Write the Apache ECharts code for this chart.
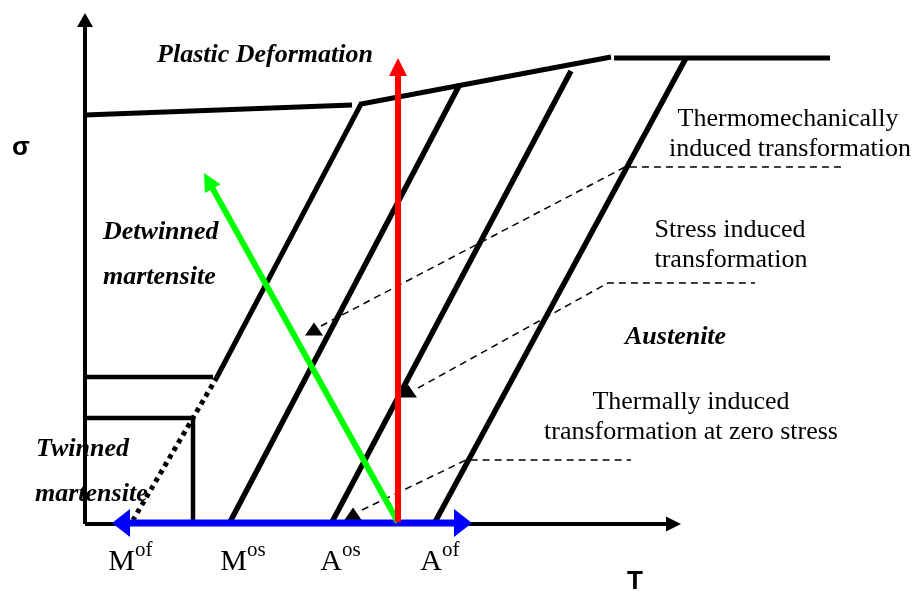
<!DOCTYPE html>
<html>
<head>
<meta charset="utf-8">
<script src="https://cdn.jsdelivr.net/npm/echarts@6/dist/echarts.min.js"></script>
<style>
  html, body { margin: 0; padding: 0; background: #fff; }
  #chart { width: 918px; height: 591px; }
</style>
</head>
<body>
<div id="chart"></div>
<script>
// Schematic stress–temperature phase diagram of a shape memory alloy.
// All points are given as [T, sigma] in arbitrary diagram units.

// Coordinate axes (drawn as arrows)
const tempAxis = [[0, 0], [596, 0]];
const sigmaAxis = [[0, 0], [0, 511]];

// Yield (plastic deformation) limit
const yieldLowT = [[0, 409], [267, 419]];
const yieldHighT = [[529, 466], [745, 466]];

// Transformation boundaries
const mfUpper = [[132, 147], [276, 420], [526, 467]];   // Mf line continuing into the yield limit
const mfLower = [[132, 147], [48, 4]];                  // dotted part down to Mof
const msLine = [[145, 2], [375, 440]];
const asLine = [[247, 2], [486, 453]];
const afLine = [[350, 2], [601, 466]];

// Twinned / detwinned martensite region outlines
const detwinLevel = [[0, 147], [128, 147]];
const twinnedBox = [[0, 106], [108, 106], [108, 0]];

// Leader lines from the annotations to the paths
const leaderThermomech = [[236, 198], [540, 357], [758, 357]];
const leaderStress = [[333, 136], [523, 241], [670, 241]];
const leaderThermal = [[277, 14], [381, 64], [546, 64]];
const leaderMarks = [[229, 195], [323, 133], [268, 10]];

// Loading paths
const stressPath = [[313, 2], [313, 466]];          // stress induced (isothermal loading)
const thermomechPath = [[313, 2], [119, 351]];      // thermomechanically induced
const thermalPath = [[27, 1], [387, 1]];            // thermal cycling at zero stress

// Temperature tick labels
const tickMain = ['M', 'M', 'A', 'A'];
const tickSup = ['of', 'os', 'os', 'of'];
const tickT = [50, 162, 257, 357];

// Region and annotation texts
const regionTitles = ['Plastic Deformation', 'Detwinned', 'martensite', 'Twinned', 'martensite', 'Austenite'];
const noteTexts = ['Thermomechanically', 'induced transformation', 'Stress induced', 'transformation',
                   'Thermally induced', 'transformation at zero stress'];
const axisNames = ['σ', 'T'];

const SERIF = '"Liberation Serif", "Times New Roman", serif';
const SANS = '"Liberation Sans", Arial, sans-serif';

function polyline(name, pts, width, dash, z) {
  return {
    type: 'line', name, data: pts, showSymbol: false, symbol: 'none',
    silent: true, animation: false, z: z || 2,
    lineStyle: { color: '#000', width, type: dash || 'solid', cap: 'butt', join: 'miter', opacity: 1 }
  };
}

function arrow(name, path, color, width, headLen, headWid, both, z) {
  return {
    type: 'custom', name, coordinateSystem: 'cartesian2d', silent: true, animation: false,
    clip: false, z: z || 3,
    data: [[path[0][0], path[0][1], path[1][0], path[1][1]]],
    renderItem(params, api) {
      const a = api.coord([api.value(0), api.value(1)]);
      const b = api.coord([api.value(2), api.value(3)]);
      const dx = b[0] - a[0], dy = b[1] - a[1];
      const len = Math.hypot(dx, dy);
      const ux = dx / len, uy = dy / len, nx = -uy, ny = ux;
      const head = (tip, sx, sy) => {
        const bx = tip[0] - sx * headLen, by = tip[1] - sy * headLen;
        return {
          type: 'polygon',
          shape: { points: [tip, [bx + nx * headWid / 2, by + ny * headWid / 2], [bx - nx * headWid / 2, by - ny * headWid / 2]] },
          style: { fill: color }
        };
      };
      const start = both ? [a[0] + ux * (headLen - 1), a[1] + uy * (headLen - 1)] : a;
      const end = [b[0] - ux * (headLen - 1), b[1] - uy * (headLen - 1)];
      const children = [{
        type: 'line',
        shape: { x1: start[0], y1: start[1], x2: end[0], y2: end[1] },
        style: { stroke: color, lineWidth: width, lineCap: 'butt' }
      }, head(b, ux, uy)];
      if (both) children.push(head(a, -ux, -uy));
      return { type: 'group', children };
    }
  };
}

const tickSeries = {
  type: 'custom', name: 'ticks', coordinateSystem: 'cartesian2d', silent: true, animation: false,
  clip: false, z: 5,
  data: tickT.map((t, i) => [t, 0, i]),
  renderItem(params, api) {
    const p = api.coord([api.value(0), api.value(1)]);
    const i = api.value(2);
    return {
      type: 'group',
      children: [{
        type: 'text', x: p[0], y: p[1] + 38,
        style: { text: tickMain[i], font: '30px ' + SERIF, fill: '#000', align: 'right', verticalAlign: 'middle' }
      }, {
        type: 'text', x: p[0], y: p[1] + 26,
        style: { text: tickSup[i], font: '21px ' + SERIF, fill: '#000', align: 'left', verticalAlign: 'middle' }
      }]
    };
  }
};

function txt(text, x, y, font, align) {
  return {
    type: 'text', x, y, silent: true,
    style: { text, font, fill: '#000', align: align || 'center', verticalAlign: 'middle',
             textAlign: align || 'center', textVerticalAlign: 'middle' }
  };
}

const BI = 'italic bold 26px ' + SERIF;
const RG = '26px ' + SERIF;

const chart = echarts.init(document.getElementById('chart'), null, { renderer: 'canvas' });
chart.setOption({
  animation: false,
  backgroundColor: '#fff',
  grid: { left: 0, right: 0, top: 0, bottom: 0, containLabel: false },
  xAxis: { type: 'value', min: -85, max: 833, show: false },
  yAxis: { type: 'value', min: -67, max: 524, show: false },
  series: [
    polyline('yieldLowT', yieldLowT, 5),
    polyline('yieldHighT', yieldHighT, 5),
    polyline('mfUpper', mfUpper, 5),
    polyline('mfLower', mfLower, 5, [4.5, 4.5]),
    polyline('ms', msLine, 5.5),
    polyline('as', asLine, 5.5),
    polyline('af', afLine, 5.5),
    polyline('detwinLevel', detwinLevel, 4.5),
    polyline('twinnedBox', twinnedBox, 4.5),
    polyline('leaderThermomech', leaderThermomech, 1.5, [7, 5]),
    polyline('leaderStress', leaderStress, 1.5, [7, 5]),
    polyline('leaderThermal', leaderThermal, 1.5, [7, 5]),
    {
      type: 'scatter', name: 'marks', data: leaderMarks, symbol: 'triangle', symbolSize: [18, 13],
      itemStyle: { color: '#000', opacity: 1 }, silent: true, animation: false, z: 3
    },
    arrow('tempAxis', tempAxis, '#000', 4, 15, 15, false, 3),
    arrow('sigmaAxis', sigmaAxis, '#000', 4, 14, 16, false, 3),
    arrow('thermalPath', thermalPath, '#0000ff', 7, 18, 28, true, 4),
    arrow('thermomechPath', thermomechPath, '#00ff00', 6, 18, 18, false, 4),
    arrow('stressPath', stressPath, '#ff0000', 6, 18, 18, false, 4),
    tickSeries
  ],
  graphic: { elements: [
    txt(regionTitles[0], 265, 55, BI),
    txt(regionTitles[1], 103, 232, BI, 'left'),
    txt(regionTitles[2], 103, 277, BI, 'left'),
    txt(regionTitles[3], 36, 449, BI, 'left'),
    txt(regionTitles[4], 35, 494, BI, 'left'),
    txt(regionTitles[5], 625, 337, BI, 'left'),
    txt(noteTexts[0], 788, 119, RG),
    txt(noteTexts[1], 790, 149, RG),
    txt(noteTexts[2], 730, 230, RG),
    txt(noteTexts[3], 731, 260, RG),
    txt(noteTexts[4], 691, 402, RG),
    txt(noteTexts[5], 691, 432, RG),
    txt(axisNames[0], 21, 148, 'bold 26px ' + SANS),
    txt(axisNames[1], 635, 582, 'bold 26px ' + SANS)
  ] }
});
</script>
</body>
</html>
